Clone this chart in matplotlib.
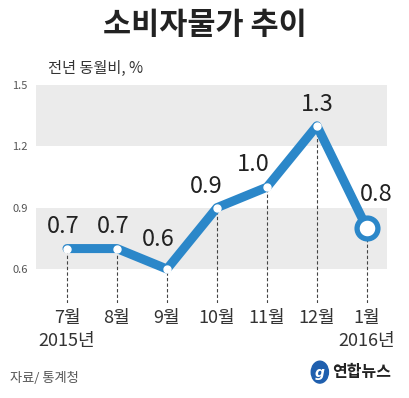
import matplotlib.pyplot as plt
from matplotlib.patches import Ellipse

months = ["7월", "8월", "9월", "10월", "11월", "12월", "1월"]
years = ["2015년", "", "", "", "", "", "2016년"]
values = [0.7, 0.7, 0.6, 0.9, 1.0, 1.3, 0.8]
yticks = [0.6, 0.9, 1.2, 1.5]

BLUE = "#2b87c9"
KR = ["Noto Sans CJK KR", "DejaVu Sans"]

plt.rcParams['font.family'] = KR

fig = plt.figure(figsize=(4.09, 3.98), dpi=100)
ax = fig.add_axes([0.088, 0.2387, 0.858, 0.548])

x = list(range(len(values)))

# gray bands
ax.axhspan(1.2, 1.5, color="#ebebeb", lw=0, zorder=0)
ax.axhspan(0.6, 0.9, color="#ebebeb", lw=0, zorder=0)

ax.set_xlim(-0.62, 6.4)
ax.set_ylim(0.434, 1.5)

# dashed drop lines
ax.vlines(x, 0.434, values, colors="#444444", linestyles=(0, (3, 2)), lw=0.8, zorder=1)

ax.plot(x, values, color=BLUE, lw=6.5, solid_joinstyle="round",
        solid_capstyle="round", zorder=2)
ax.plot(x[:-1], values[:-1], "o", ms=5, mfc="white", mec="white", zorder=3)
ax.plot(x[-1], values[-1], "o", ms=15, mfc="white", mec=BLUE, mew=3.8, zorder=4)

# value labels
offsets = [(-3, 16), (-3, 16), (-6.5, 21), (-8, 15), (-10, 16), (0, 15), (7, 24.5)]
for xi, v, off in zip(x, values, offsets):
    ax.annotate(f"{v:.1f}", (xi, v), xytext=off, textcoords="offset points",
                ha="center", va="center", fontsize=17, color="#222222")

ax.set_yticks(yticks)
ax.set_yticklabels([f"{t:.1f}" for t in yticks], fontsize=8, color="#555555")
ax.set_xticks(x)
ax.set_xticklabels([m + ("\n" + y if y else "") for m, y in zip(months, years)],
                   fontsize=13, color="#333333", linespacing=1.4)
ax.tick_params(axis="both", length=0)
ax.tick_params(axis="x", pad=4)
ax.tick_params(axis="y", pad=6)
for s in ax.spines.values():
    s.set_visible(False)

fig.text(0.5, 0.937, "소비자물가 추이", ha="center", va="center",
         fontsize=22, fontweight="bold", color="#222222")
fig.text(0.117, 0.829, "전년 동월비, %", ha="left", va="center",
         fontsize=11, color="#333333")
fig.text(0.025, 0.05, "자료/ 통계청", ha="left", va="center",
         fontsize=9.5, color="#555555")

# logo
fig.patches.append(Ellipse((0.782, 0.065), 0.042, 0.055, transform=fig.transFigure,
                           color="#1f5fae", figure=fig))
fig.text(0.782, 0.063, "g", ha="center", va="center", fontsize=10,
         color="white", fontweight="bold", style="italic", family=["DejaVu Sans"])
fig.text(0.812, 0.065, "연합뉴스", ha="left", va="center", fontsize=11.5,
         fontweight="bold", color="#222222")

fig.savefig("out.png", dpi=100)
